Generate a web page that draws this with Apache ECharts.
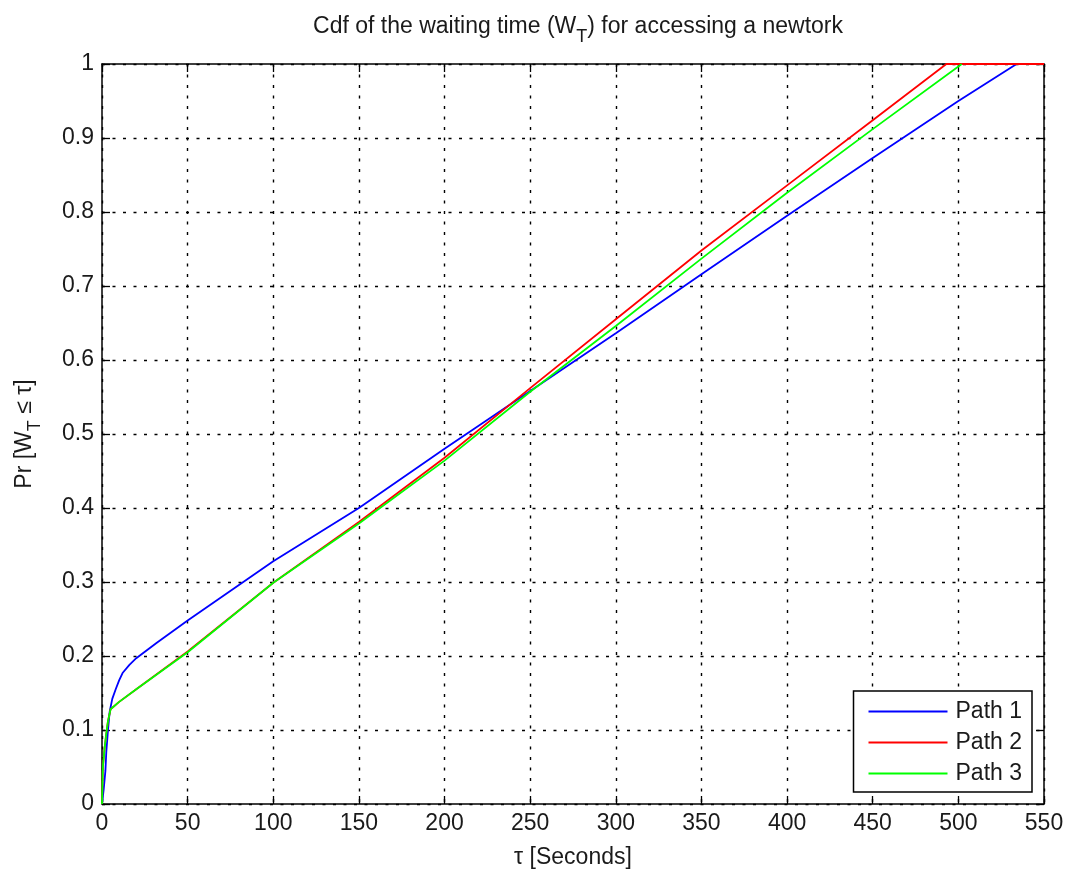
<!DOCTYPE html>
<html>
<head>
<meta charset="utf-8">
<script src="https://cdn.jsdelivr.net/npm/echarts@6.0.0/dist/echarts.min.js"></script>
<style>
  html, body { margin: 0; padding: 0; background: #fff; }
  #chart { width: 1071px; height: 877px; }
</style>
</head>
<body>
<div id="chart"></div>
<script>
// values (tau in seconds, cdf)
const path1X = [0, 1, 2, 2.5, 3.5, 4.5, 6, 8, 10, 12, 16, 20, 32, 50, 100, 150, 200, 250, 300, 350, 400, 450, 500, 534];
const path1Y = [0, 0.02, 0.045, 0.07, 0.1, 0.125, 0.142, 0.155, 0.167, 0.177, 0.188, 0.197, 0.218, 0.248, 0.328, 0.4, 0.48, 0.558, 0.636, 0.716, 0.795, 0.873, 0.95, 1];

const path2X = [0, 0.5, 1.5, 2.5, 3.5, 5, 10, 20, 50, 100, 150, 200, 250, 300, 350, 400, 450, 493, 550];
const path2Y = [0, 0.05, 0.075, 0.095, 0.112, 0.128, 0.138, 0.155, 0.206, 0.299, 0.381, 0.468, 0.562, 0.655, 0.748, 0.836, 0.924, 1, 1];

const path3X = [0, 0.5, 1.5, 2.5, 3.5, 5, 10, 20, 50, 100, 150, 200, 250, 300, 350, 400, 450, 502];
const path3Y = [0, 0.05, 0.075, 0.095, 0.112, 0.128, 0.138, 0.155, 0.205, 0.299, 0.379, 0.464, 0.557, 0.646, 0.737, 0.826, 0.912, 1];

const seriesNames = ["Path 1", "Path 2", "Path 3"];
const seriesColors = ["#0000ff", "#ff0000", "#00ff00"];

const font = "Liberation Sans, Arial, sans-serif";
const txt = "#1a1a1a";

function pairs(xs, ys) {
    return xs.map((x, i) => [x, ys[i]]);
}

// main text + lowered subscript
const subRich = {
    a: { fontFamily: font, fontSize: 23, color: txt, lineHeight: 26, verticalAlign: "top" },
    s: { fontFamily: font, fontSize: 18, color: txt, lineHeight: 31, verticalAlign: "bottom" }
};

const gridLine = {
    show: true,
    lineStyle: { color: "#000", width: 1.4, type: [3, 7.5] }
};

const boxAxisLine = { show: true, onZero: false, lineStyle: { color: "#000", width: 1.5 } };
const boxTick = { show: true, inside: true, length: 8, lineStyle: { color: "#000", width: 1.3 } };

let xAxis = [
    {
        type: "value",
        min: 0,
        max: 550,
        interval: 50,
        position: "bottom",
        name: "τ [Seconds]",
        nameLocation: "middle",
        nameGap: 42,
        nameTextStyle: { fontFamily: font, fontSize: 23, color: txt },
        axisLine: boxAxisLine,
        axisTick: boxTick,
        axisLabel: { fontFamily: font, fontSize: 23, color: txt, margin: 8 },
        splitLine: gridLine
    },
    {
        type: "value",
        min: 0,
        max: 550,
        interval: 50,
        position: "top",
        axisLine: boxAxisLine,
        axisTick: boxTick,
        axisLabel: { show: false },
        splitLine: { show: false }
    }
];

let yAxis = [
    {
        type: "value",
        min: 0,
        max: 1,
        interval: 0.1,
        position: "left",
        name: "{a|Pr [W}{s|T}{a| ≤ τ]}",
        nameLocation: "middle",
        nameGap: 58,
        nameTextStyle: { fontFamily: font, color: txt, rich: subRich },
        axisLine: boxAxisLine,
        axisTick: boxTick,
        axisLabel: {
            fontFamily: font,
            fontSize: 23,
            color: txt,
            margin: 8,
            formatter: v => String(Math.round(v * 10) / 10)
        },
        splitLine: gridLine
    },
    {
        type: "value",
        min: 0,
        max: 1,
        interval: 0.1,
        position: "right",
        axisLine: boxAxisLine,
        axisTick: boxTick,
        axisLabel: { show: false },
        splitLine: { show: false }
    }
];

const allData = [pairs(path1X, path1Y), pairs(path2X, path2Y), pairs(path3X, path3Y)];

let series = seriesNames.map((name, i) => ({
    name: name,
    type: "line",
    data: allData[i],
    showSymbol: false,
    symbol: "none",
    clip: false,
    color: seriesColors[i],
    lineStyle: { color: seriesColors[i], width: 1.8 },
    z: 3 + i
}));

let option = {
    backgroundColor: "#fff",
    animation: false,
    title: {
        text: "{a|Cdf of the waiting time (W}{s|T}{a|) for accessing a newtork}",
        left: 573,
        top: 10,
        textAlign: "center",
        textStyle: { fontFamily: font, fontWeight: "normal", color: txt, rich: subRich }
    },
    grid: { left: 102, right: 27, top: 64, bottom: 73, containLabel: false, outerBoundsMode: "none" },
    legend: {
        data: seriesNames,
        orient: "vertical",
        right: 39,
        bottom: 85,
        icon: "rect",
        itemWidth: 79,
        itemHeight: 2,
        itemGap: 8,
        padding: [9, 10, 7, 15],
        backgroundColor: "#fff",
        borderColor: "#000",
        borderWidth: 1.5,
        borderRadius: 0,
        textStyle: { fontFamily: font, fontSize: 23, color: txt, padding: [0, 0, 0, 3] }
    },
    xAxis: xAxis,
    yAxis: yAxis,
    series: series
};

let myChart = echarts.init(document.getElementById("chart"));
myChart.setOption(option);
</script>
</body>
</html>
